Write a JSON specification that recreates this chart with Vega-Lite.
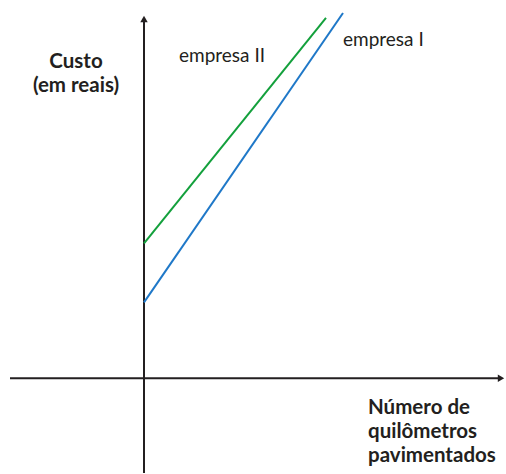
{
  "$schema": "https://vega.github.io/schema/vega-lite/v6.json",
  "width": 506,
  "height": 474,
  "padding": 0,
  "autosize": {"type": "fit", "contains": "padding"},
  "background": "white",
  "config": {"view": {"stroke": null}},
  "datasets": {
    "axes": [
      {"x": -134, "y": 0, "x2": 356, "y2": 0},
      {"x": 0, "y": 360, "x2": 0, "y2": -95}
    ],
    "arrows": [
      {"x": 357, "y": 0, "shape": "triangle-right"},
      {"x": 0, "y": 360, "shape": "triangle-up"}
    ],
    "lines": [
      {"empresa": "empresa II", "km": 0, "custo": 135},
      {"empresa": "empresa II", "km": 182, "custo": 361},
      {"empresa": "empresa I", "km": 0, "custo": 76},
      {"empresa": "empresa I", "km": 199, "custo": 366}
    ],
    "series": [
      {"text": "empresa II", "x": 35, "y": 317},
      {"text": "empresa I", "x": 199, "y": 333}
    ],
    "ytitle": [
      {"text": "Custo", "x": -68, "y": 311},
      {"text": "(em reais)", "x": -68, "y": 287}
    ],
    "xtitle": [
      {"text": "Número de", "x": 224, "y": -36},
      {"text": "quilômetros", "x": 224, "y": -60},
      {"text": "pavimentados", "x": 224, "y": -84}
    ]
  },
  "layer": [
    {
      "data": {"name": "axes"},
      "mark": {"type": "rule", "color": "#231f20", "strokeWidth": 2},
      "encoding": {
        "x": {"field": "x", "type": "quantitative", "scale": {"domain": [-144, 362], "nice": false, "zero": false}, "axis": null},
        "y": {"field": "y", "type": "quantitative", "scale": {"domain": [-95, 379], "nice": false, "zero": false}, "axis": null},
        "x2": {"field": "x2"},
        "y2": {"field": "y2"}
      }
    },
    {
      "data": {"name": "arrows"},
      "mark": {"type": "point", "filled": true, "color": "#231f20", "size": 55, "opacity": 1},
      "encoding": {
        "x": {"field": "x", "type": "quantitative", "axis": null},
        "y": {"field": "y", "type": "quantitative", "axis": null},
        "shape": {"field": "shape", "type": "nominal", "scale": null, "legend": null}
      }
    },
    {
      "data": {"name": "lines"},
      "mark": {"type": "line", "strokeWidth": 2},
      "encoding": {
        "x": {"field": "km", "type": "quantitative", "axis": null},
        "y": {"field": "custo", "type": "quantitative", "axis": null},
        "color": {"field": "empresa", "type": "nominal", "scale": {"domain": ["empresa I", "empresa II"], "range": ["#1f78c8", "#13a03c"]}, "legend": null},
        "detail": {"field": "empresa"}
      }
    },
    {
      "data": {"name": "series"},
      "mark": {"type": "text", "font": "Lato", "fontSize": 19, "color": "#231f20", "baseline": "alphabetic", "align": "left"},
      "encoding": {
        "x": {"field": "x", "type": "quantitative", "axis": null},
        "y": {"field": "y", "type": "quantitative", "axis": null},
        "text": {"field": "text"}
      }
    },
    {
      "data": {"name": "ytitle"},
      "mark": {"type": "text", "font": "Lato", "fontSize": 20.5, "fontWeight": "bold", "color": "#231f20", "baseline": "alphabetic", "align": "center"},
      "encoding": {
        "x": {"field": "x", "type": "quantitative", "axis": null},
        "y": {"field": "y", "type": "quantitative", "axis": null},
        "text": {"field": "text"}
      }
    },
    {
      "data": {"name": "xtitle"},
      "mark": {"type": "text", "font": "Lato", "fontSize": 20.5, "fontWeight": "bold", "color": "#231f20", "baseline": "alphabetic", "align": "left"},
      "encoding": {
        "x": {"field": "x", "type": "quantitative", "axis": null},
        "y": {"field": "y", "type": "quantitative", "axis": null},
        "text": {"field": "text"}
      }
    }
  ]
}
